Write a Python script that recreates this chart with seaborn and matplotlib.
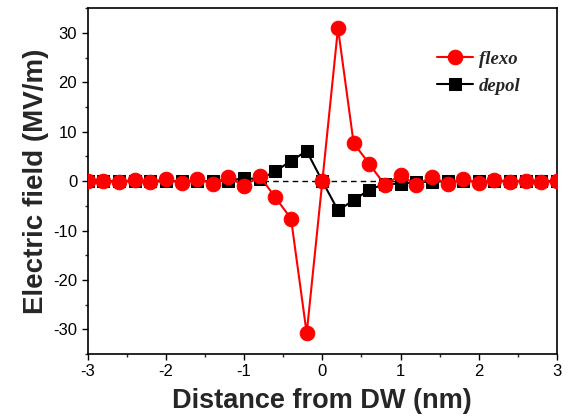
import numpy as np
import matplotlib
matplotlib.use("Agg")
import matplotlib.pyplot as plt
from matplotlib.ticker import MultipleLocator
import seaborn as sns

# Distance from the domain wall (nm)
distance = [-3.0, -2.8, -2.6, -2.4, -2.2, -2.0, -1.8, -1.6, -1.4, -1.2, -1.0,
            -0.8, -0.6, -0.4, -0.2, 0.0, 0.2, 0.4, 0.6, 0.8, 1.0,
            1.2, 1.4, 1.6, 1.8, 2.0, 2.2, 2.4, 2.6, 2.8, 3.0]

# Flexoelectric field (MV/m)
flexo = [0.0, 0.1, -0.2, 0.3, -0.2, 0.4, -0.4, 0.5, -0.5, 0.9, -1.0,
         1.0, -3.3, -7.6, -30.8, 0.0, 31.0, 7.7, 3.5, -0.8, 1.3,
         -0.8, 0.9, -0.5, 0.4, -0.3, 0.2, -0.1, 0.1, -0.1, 0.0]

# Depolarization field (MV/m)
depol = [0.0, 0.0, 0.0, 0.0, 0.0, 0.0, 0.0, 0.0, 0.0, 0.1, 0.6,
         0.4, 2.0, 4.1, 6.1, 0.0, -5.9, -3.9, -1.7, -0.6, -0.5,
         -0.2, -0.1, 0.0, 0.0, 0.0, 0.0, 0.0, 0.0, 0.0, 0.0]

series_labels = ["flexo", "depol"]

sns.set_style("ticks")
plt.rcParams["font.family"] = ["Liberation Sans", "DejaVu Sans"]
plt.rcParams["axes.unicode_minus"] = False

fig = plt.figure(figsize=(5.69, 4.16), dpi=100)
ax = fig.add_axes([0.154, 0.149, 0.825, 0.831])

ax.axhline(0, color="black", linestyle=(0, (4, 3)), linewidth=1.0, zorder=1)

sns.lineplot(x=distance, y=depol, ax=ax, color="black", marker="s",
             markersize=9, markeredgecolor="black", linewidth=1.5,
             label=series_labels[1], zorder=2)
sns.lineplot(x=distance, y=flexo, ax=ax, color="red", marker="o",
             markersize=10.5, markeredgecolor="red", linewidth=1.5,
             label=series_labels[0], zorder=3)

ax.set_xlim(-3, 3)
ax.set_ylim(-35, 35)
ax.xaxis.set_major_locator(MultipleLocator(1))
ax.xaxis.set_minor_locator(MultipleLocator(0.5))
ax.yaxis.set_major_locator(MultipleLocator(10))
ax.yaxis.set_minor_locator(MultipleLocator(5))
ax.tick_params(which="major", direction="out", length=4.5, width=1.0, pad=3,
               labelsize=12, colors="black", top=False, right=False)
ax.tick_params(which="minor", direction="out", length=2.5, width=1.0,
               top=False, right=False)
for s in ax.spines.values():
    s.set_visible(True)
    s.set_linewidth(1.2)
    s.set_color("black")

ax.set_xlabel("Distance from DW (nm)", fontsize=19.5, fontweight="bold", labelpad=6)
ax.set_ylabel("Electric field (MV/m)", fontsize=20, fontweight="bold", labelpad=3)

handles, labels = ax.get_legend_handles_labels()
order = [labels.index(n) for n in series_labels]
ax.legend([handles[i] for i in order], [labels[i] for i in order],
          loc="upper left", bbox_to_anchor=(0.745, 0.878), frameon=False,
          borderpad=0, borderaxespad=0,
          prop={"family": "Liberation Serif", "style": "italic",
                "weight": "bold", "size": 13.5},
          handlelength=1.9, handletextpad=0.3, labelspacing=0.55)

fig.savefig("out.png", dpi=100)
